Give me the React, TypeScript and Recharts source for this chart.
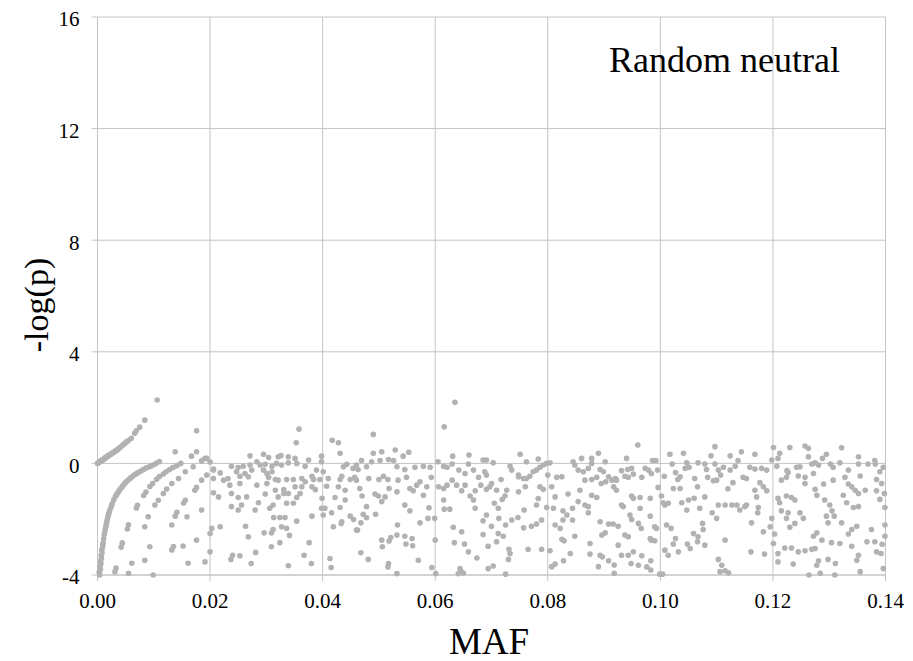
import React from 'react';
import { ScatterChart, Scatter, XAxis, YAxis, CartesianGrid } from 'recharts';

type P = [number, number];

const xTicks = [0, 0.02, 0.04, 0.06, 0.08, 0.1, 0.12, 0.14];
const yTicks = [-4, 0, 4, 8, 12, 16];
const titleText = 'Random neutral';
const xLabel = 'MAF';
const yLabel = '-log(p)';

// MAF, -log(p) pairs
const curvePositive: P[] = [
  [0, 0], [0.0001, 0.015], [0.0002, 0.03], [0.0003, 0.045], [0.0004, 0.06], [0.0005, 0.075],
  [0.0006, 0.09], [0.0007, 0.1], [0.0008, 0.11], [0.0009, 0.125], [0.001, 0.14], [0.0011, 0.155],
  [0.0012, 0.17], [0.0013, 0.185], [0.0014, 0.2], [0.0015, 0.215], [0.0016, 0.23], [0.0017, 0.245],
  [0.0018, 0.26], [0.0019, 0.27], [0.002, 0.28], [0.0021, 0.3], [0.0023, 0.32], [0.0024, 0.34],
  [0.0026, 0.36], [0.0027, 0.38], [0.0029, 0.4], [0.0031, 0.43], [0.0032, 0.44], [0.0034, 0.47],
  [0.0035, 0.49], [0.0037, 0.52], [0.0038, 0.54], [0.0041, 0.59], [0.0044, 0.64], [0.0047, 0.69],
  [0.005, 0.74], [0.0052, 0.78], [0.0055, 0.82], [0.006, 0.9], [0.0066, 1.08], [0.0069, 1.17],
  [0.0075, 1.3], [0.0084, 1.55], [0.0106, 2.27],
];

const curveMain: P[] = [
  [0.0003, -3.9], [0.0004, -4.0], [0.00045, -3.7], [0.0005, -3.8], [0.00055, -3.5], [0.0006, -3.6],
  [0.00065, -3.3], [0.0007, -3.4], [0.00075, -3.1], [0.0008, -3.2], [0.0009, -3.0], [0.00095, -2.92],
  [0.001, -2.85], [0.0011, -2.7], [0.0012, -2.55], [0.0013, -2.45], [0.0014, -2.35], [0.0015, -2.25],
  [0.0016, -2.15], [0.0017, -2.05], [0.0018, -1.95], [0.0019, -1.88], [0.002, -1.8], [0.0021, -1.72],
  [0.0023, -1.62], [0.0025, -1.52], [0.0026, -1.45], [0.0029, -1.3], [0.0032, -1.18], [0.0034, -1.12],
  [0.0036, -1.05], [0.0038, -0.99], [0.004, -0.93], [0.0043, -0.86], [0.0045, -0.8], [0.0048, -0.73],
  [0.005, -0.68], [0.0053, -0.62], [0.0056, -0.57], [0.0059, -0.52], [0.0062, -0.47], [0.0065, -0.42],
  [0.0068, -0.38], [0.0071, -0.34], [0.0075, -0.3], [0.0079, -0.25], [0.0083, -0.2], [0.0087, -0.16],
  [0.0092, -0.12], [0.0096, -0.08], [0.0101, -0.04], [0.0105, 0.01], [0.011, 0.07],
];

const curveSecond: P[] = [
  [0.0031, -3.88], [0.0033, -3.75], [0.0042, -3.0], [0.0044, -2.85], [0.0053, -2.35], [0.0055, -2.2],
  [0.0069, -1.6], [0.0071, -1.5], [0.0082, -1.15], [0.0086, -1.03], [0.0093, -0.83], [0.0098, -0.72],
  [0.0105, -0.57], [0.011, -0.47], [0.0117, -0.38], [0.0122, -0.3], [0.0128, -0.22], [0.0134, -0.15],
  [0.0141, -0.08], [0.0148, 0.0], [0.0138, 0.42],
];

const curveThird: P[] = [
  [0.0055, -3.94], [0.0061, -3.58], [0.0084, -3.47], [0.0093, -2.99], [0.0084, -2.27], [0.009, -1.91],
  [0.0102, -1.49], [0.0108, -1.32], [0.0117, -1.08], [0.0123, -0.92], [0.0132, -0.72], [0.0144, -0.54],
  [0.0156, -0.3], [0.017, -0.12], [0.0185, 0.09], [0.0194, 0.18],
];

const curveFourth: P[] = [
  [0.0099, -4.0], [0.0132, -3.1], [0.0135, -2.98], [0.0152, -2.96], [0.0132, -2.21], [0.0138, -1.89],
  [0.0141, -1.75], [0.0156, -1.32], [0.0153, -1.42], [0.0173, -0.96], [0.0176, -0.86], [0.0185, -0.6],
  [0.0194, -0.42], [0.0206, -0.24],
];

const band000to023: P[] = [
  [0.0161, -3.58], [0.0191, -3.53], [0.0176, -2.75], [0.02, -3.17], [0.02, -2.51], [0.0203, -2.33],
  [0.0218, -2.27], [0.0185, -1.67], [0.0159, -1.91], [0.0176, 1.17], [0.0176, 0.42], [0.0167, 0.26],
  [0.0191, 0.18], [0.02, 0.05], [0.0206, -0.2], [0.0218, -0.34], [0.0224, -0.6], [0.0206, -0.54],
  [0.0215, -1.2], [0.0206, -1.05],
];

const band023to046: P[] = [
  [0.0358, 1.23], [0.0353, 0.74], [0.0417, 0.83], [0.0428, 0.74], [0.0431, 0.36],
  [0.0271, 0.27], [0.0295, 0.33], [0.0304, 0.21], [0.0321, 0.24], [0.0326, 0.28], [0.0339, 0.24],
  [0.0351, 0.18], [0.0375, 0.12], [0.0398, 0.26], [0.0398, 0.06], [0.0238, -0.1], [0.025, -0.15],
  [0.0259, -0.1], [0.0271, -0.06], [0.0283, 0.06], [0.0289, -0.06], [0.0298, -0.03], [0.031, -0.1],
  [0.0318, 0.0], [0.0327, -0.06], [0.0339, 0.02], [0.0354, 0.0], [0.0369, -0.1], [0.0389, -0.24],
  [0.0401, -0.3], [0.0437, -0.12], [0.0443, -0.03], [0.0454, -0.18],
  [0.0232, -0.54], [0.0247, -0.3], [0.0253, -0.46], [0.0262, -0.36], [0.0274, -0.24], [0.0295, -0.24],
  [0.0301, -0.36], [0.0304, -0.5], [0.031, -0.3], [0.0316, -0.58], [0.0321, -0.6], [0.0336, -0.58],
  [0.0348, -0.58], [0.0363, -0.54], [0.0369, -0.66], [0.0381, -0.46], [0.0384, -0.58], [0.0395, -0.58],
  [0.041, -0.54], [0.0431, -0.58], [0.0434, -0.46], [0.0449, -0.58], [0.0457, -0.5], [0.0235, -0.78],
  [0.0253, -0.72], [0.0268, -0.48], [0.0283, -0.78], [0.0301, -0.72], [0.0316, -0.96], [0.0331, -0.94],
  [0.0351, -0.84], [0.0363, -0.84], [0.0381, -0.84], [0.0387, -0.94], [0.0407, -0.82], [0.0428, -0.84],
  [0.044, -0.96],
  [0.0238, -1.08], [0.025, -1.22], [0.0265, -1.2], [0.028, -1.67], [0.0238, -1.55], [0.025, -1.67],
  [0.0256, -1.49], [0.0286, -1.41], [0.0298, -1.1], [0.0306, -1.61], [0.0312, -1.49], [0.0321, -1.2],
  [0.0331, -1.08], [0.0336, -1.43], [0.0339, -1.08], [0.0348, -1.43], [0.0354, -1.22], [0.036, -1.08],
  [0.0381, -1.89], [0.0401, -1.85], [0.0404, -1.61], [0.0416, -1.77], [0.0422, -1.22], [0.0431, -1.58],
  [0.044, -1.31], [0.0449, -1.89], [0.0455, -2.01], [0.0399, -1.25], [0.0398, -1.61],
  [0.0313, -1.94], [0.0324, -1.94], [0.0333, -1.94], [0.0354, -2.07], [0.0263, -2.25], [0.0268, -2.63],
  [0.0296, -2.49], [0.0309, -2.49], [0.0312, -2.37], [0.0327, -2.27], [0.0336, -2.33], [0.0341, -2.58],
  [0.0324, -2.84], [0.0309, -2.99], [0.0376, -2.84], [0.0367, -3.29], [0.038, -3.59], [0.0339, -3.67],
  [0.0281, -3.19], [0.0273, -3.59], [0.0253, -3.31], [0.024, -3.29], [0.0237, -3.44], [0.0413, -3.41],
  [0.0415, -3.73], [0.0419, -2.27], [0.0433, -2.15], [0.0434, -2.09], [0.046, -2.39],
];

const band046to069: P[] = [
  [0.049, 1.04], [0.0635, 2.19], [0.0616, 1.31], [0.0505, 0.42], [0.049, 0.36], [0.0529, 0.48],
  [0.0553, 0.4], [0.0543, 0.26], [0.0631, 0.26], [0.066, 0.3], [0.0685, 0.12],
  [0.0469, 0.1], [0.0478, -0.12], [0.0463, -0.22], [0.046, -0.06], [0.0487, 0.06], [0.0502, 0.1],
  [0.0517, 0.14], [0.0526, 0.1], [0.0532, -0.12], [0.0546, -0.22], [0.0564, -0.14], [0.0579, -0.1],
  [0.0591, -0.14], [0.0605, 0.06], [0.0615, -0.1], [0.0621, -0.14], [0.063, -0.02], [0.0642, -0.24],
  [0.0653, -0.36], [0.0659, -0.02], [0.0668, -0.24], [0.0677, -0.5], [0.0688, -0.3],
  [0.046, -0.6], [0.0466, -0.9], [0.047, -1.17], [0.0482, -0.54], [0.05, -0.58], [0.0508, -0.46],
  [0.0516, -0.58], [0.0518, -0.9], [0.0511, -1.2], [0.0499, -1.17], [0.0493, -1.1], [0.0534, -0.6],
  [0.0532, -1.02], [0.0549, -0.5], [0.0555, -0.9], [0.0561, -0.98], [0.0567, -0.78], [0.0573, -0.66],
  [0.0579, -1.14], [0.0585, -0.84], [0.0593, -0.5], [0.0606, -0.84], [0.0615, -0.9], [0.0621, -0.78],
  [0.063, -0.6], [0.0638, -0.78], [0.0647, -0.98], [0.0653, -0.78], [0.0662, -1.17], [0.0671, -0.98],
  [0.0681, -0.78], [0.0691, -0.93],
  [0.0478, -1.55], [0.0472, -1.82], [0.0478, -1.95], [0.0468, -2.13], [0.0462, -2.39], [0.0494, -1.82],
  [0.0505, -1.37], [0.0546, -1.49], [0.0555, -1.7], [0.0589, -1.59], [0.0587, -1.97], [0.0599, -1.97],
  [0.0573, -2.13], [0.0533, -2.21], [0.0532, -2.57], [0.0521, -2.66], [0.0518, -2.78], [0.0505, -2.75],
  [0.0546, -2.61], [0.0559, -2.69], [0.0548, -2.89], [0.056, -2.95], [0.0506, -2.99], [0.0615, -1.31],
  [0.0616, -1.64], [0.0626, -1.64], [0.0632, -2.29], [0.0647, -2.45], [0.0634, -2.84], [0.0652, -2.89],
  [0.0668, -1.31], [0.0671, -1.61], [0.0685, -2.06], [0.0685, -2.55], [0.06, -2.75],
  [0.0468, -3.2], [0.0481, -3.44], [0.0517, -3.59], [0.0516, -3.71], [0.0532, -3.95], [0.057, -3.47],
  [0.0594, -3.73], [0.0601, -3.95], [0.0644, -3.77], [0.0646, -3.88], [0.0641, -3.95], [0.065, -3.93],
  [0.0659, -3.17], [0.0674, -3.39],
];

const band069to092: P[] = [
  [0.0751, 0.33], [0.0783, 0.16], [0.0845, 0.06], [0.086, 0.18], [0.0878, 0.18], [0.089, 0.36],
  [0.0902, 0.06], [0.0691, 0.12], [0.0703, 0.02],
  [0.0733, -0.1], [0.0736, -0.24], [0.0748, -0.42], [0.0757, -0.54], [0.0762, -0.54], [0.0768, -0.46],
  [0.0774, -0.3], [0.078, -0.24], [0.0786, -0.14], [0.0792, -0.06], [0.0798, 0.0], [0.0762, 0.06],
  [0.0804, 0.02],
  [0.0848, -0.06], [0.0854, -0.24], [0.0863, -0.3], [0.0872, -0.18], [0.0878, 0.0], [0.0893, -0.22],
  [0.0899, -0.3], [0.0908, -0.48], [0.0914, -0.6], [0.092, -0.54], [0.0866, -0.6], [0.0878, -0.58],
  [0.0887, -0.5], [0.0895, -0.72], [0.0903, -0.66], [0.0917, -0.84], [0.0691, -0.42], [0.07, -0.72],
  [0.0697, -0.84], [0.0717, -0.58], [0.0709, -0.96], [0.0727, -0.96], [0.0724, -1.17], [0.0719, -1.29],
  [0.0748, -1.02], [0.0748, -0.48], [0.076, -0.84], [0.0783, -1.26], [0.0786, -0.84], [0.0792, -0.93],
  [0.08, -0.42], [0.0816, -0.5], [0.0825, -0.48], [0.0807, -0.84], [0.0813, -1.2], [0.0836, -1.1],
  [0.0857, -0.96], [0.0854, -1.37], [0.0878, -1.14], [0.0887, -1.22], [0.0866, -1.49], [0.0872, -1.55],
  [0.0705, -1.43], [0.0712, -1.61], [0.0691, -1.85], [0.07, -2.25], [0.0713, -1.97], [0.0712, -2.51],
  [0.0721, -2.61], [0.0725, -2.21], [0.0736, -2.03], [0.0747, -1.94], [0.0758, -1.67], [0.078, -1.49],
  [0.0757, -2.31], [0.0771, -2.25], [0.078, -2.17], [0.0789, -2.03], [0.0798, -1.58], [0.081, -1.61],
  [0.0827, -1.7], [0.0834, -1.85], [0.0827, -2.03], [0.0813, -2.21], [0.0822, -2.33], [0.0844, -1.61],
  [0.0844, -2.03], [0.0872, -1.77], [0.0893, -2.09], [0.0908, -2.17], [0.0916, -2.17], [0.0902, -2.49],
  [0.0896, -2.57], [0.0825, -2.72], [0.0829, -2.77], [0.0848, -2.61], [0.0694, -2.97], [0.0709, -2.81],
  [0.0731, -3.08],
  [0.0733, -3.23], [0.073, -3.44], [0.0694, -3.77], [0.0703, -3.68], [0.0725, -3.97], [0.0765, -3.08],
  [0.0789, -3.08], [0.0804, -3.13], [0.0807, -3.7], [0.0813, -3.61], [0.0828, -3.49], [0.084, -3.23],
  [0.0875, -2.87], [0.0875, -3.25], [0.0893, -3.29], [0.0897, -3.35], [0.0908, -3.49], [0.089, -3.7],
  [0.0918, -3.64], [0.0918, -3.94],
];

const band092to115: P[] = [
  [0.096, 0.66], [0.094, 0.18], [0.0986, 0.1], [0.0992, 0.1], [0.1017, 0.33], [0.1041, 0.36],
  [0.1097, 0.6], [0.109, 0.27], [0.1124, 0.27], [0.1144, 0.42], [0.1067, 0.02],
  [0.0931, -0.26], [0.0942, -0.22], [0.0949, -0.18], [0.0952, -0.38], [0.0943, -0.5], [0.0937, -0.46],
  [0.0967, -0.5], [0.0973, -0.18], [0.0979, -0.24], [0.0984, -0.36], [0.0995, -0.24], [0.1007, -0.46],
  [0.1021, -0.02], [0.1027, -0.33], [0.1031, -0.58], [0.1035, -0.48], [0.1047, 0.02], [0.1044, -0.18],
  [0.1051, -0.14], [0.1061, -0.54], [0.1066, -0.84], [0.1079, -0.02], [0.1082, -0.22], [0.1084, -0.5],
  [0.1097, -0.02], [0.1103, -0.24], [0.1107, -0.42], [0.11, -0.6], [0.1094, -0.62], [0.1112, -0.14],
  [0.1124, -0.24], [0.1133, -0.1], [0.1138, 0.1], [0.1147, -0.5], [0.1129, -0.69], [0.112, -0.91],
  [0.0922, -0.6], [0.0922, -0.96], [0.0949, -1.17], [0.0952, -1.25], [0.0964, -1.22], [0.0982, -1.25],
  [0.0996, -0.86], [0.1002, -1.17], [0.1005, -1.41], [0.1008, -1.49], [0.1014, -1.43], [0.1023, -0.9],
  [0.1035, -0.9], [0.1038, -1.41], [0.1047, -1.67], [0.105, -1.31], [0.106, -1.25], [0.107, -1.61],
  [0.1079, -1.2], [0.1092, -1.77], [0.11, -1.97], [0.1103, -1.49], [0.1115, -1.49], [0.1127, -1.49],
  [0.1136, -1.49], [0.1141, -1.67], [0.115, -1.55], [0.0931, -1.49], [0.0934, -1.55], [0.0946, -1.85],
  [0.0949, -2.01], [0.0964, -1.61], [0.0982, -1.89], [0.0961, -2.15], [0.0966, -2.33], [0.0937, -2.57],
  [0.0925, -2.25], [0.0943, -2.63],
  [0.099, -2.27], [0.0993, -2.33], [0.0982, -2.69], [0.0984, -2.75], [0.099, -2.77], [0.1011, -2.21],
  [0.1019, -2.33], [0.1027, -2.69], [0.1023, -2.89], [0.1008, -3.11], [0.1014, -3.29], [0.1032, -3.17],
  [0.1048, -2.89], [0.1053, -3.05], [0.1059, -2.51], [0.1067, -2.63], [0.1066, -2.81], [0.1075, -2.15],
  [0.1076, -2.37], [0.1079, -2.93], [0.1115, -2.75], [0.0925, -2.93], [0.0931, -3.29], [0.0943, -3.29],
  [0.0952, -3.17], [0.0967, -3.31], [0.0948, -3.59], [0.0961, -3.65], [0.0976, -3.71], [0.0983, -3.49],
  [0.0983, -3.82], [0.0999, -3.97], [0.1004, -3.97], [0.1103, -3.44], [0.1109, -3.65], [0.1106, -3.88],
  [0.1115, -3.85], [0.1121, -3.92],
];

const band115to140: P[] = [
  [0.1201, 0.57], [0.123, 0.57], [0.1257, 0.62], [0.1263, 0.54], [0.1322, 0.56], [0.1168, 0.33],
  [0.1212, 0.36], [0.1295, 0.33], [0.1288, 0.18], [0.1263, 0.24], [0.1209, 0.18], [0.1198, 0.12],
  [0.1352, 0.24], [0.1381, 0.1], [0.1382, -0.02],
  [0.1159, -0.14], [0.1168, -0.2], [0.118, -0.18], [0.1189, -0.24], [0.1207, -0.1], [0.1225, -0.26],
  [0.1242, -0.14], [0.1248, -0.12], [0.1269, -0.02], [0.1275, 0.02], [0.1281, -0.06], [0.1302, -0.02],
  [0.1307, -0.14], [0.1319, 0.02], [0.1334, -0.24], [0.1352, -0.02], [0.1369, -0.02], [0.139, -0.3],
  [0.1396, -0.14],
  [0.1153, -0.54], [0.1177, -0.69], [0.1183, -0.84], [0.1168, -0.96], [0.1171, -1.2], [0.1189, -0.98],
  [0.1215, -0.6], [0.1227, -0.33], [0.1224, -0.5], [0.1245, -0.45], [0.1257, -0.5], [0.1272, -0.36],
  [0.1257, -0.72], [0.1275, -0.93], [0.1278, -1.14], [0.129, -0.74], [0.1307, -0.6], [0.1328, -0.5],
  [0.1334, -0.74], [0.134, -0.84], [0.1346, -0.96], [0.1352, -1.08], [0.1355, -0.45], [0.1364, -0.96],
  [0.1384, -0.58], [0.1393, -0.72], [0.1398, -1.08], [0.139, -1.29], [0.1325, -1.14], [0.1331, -1.41],
  [0.1153, -1.49], [0.1174, -1.58], [0.1173, -1.77], [0.1209, -1.25], [0.1212, -1.41], [0.1224, -1.17],
  [0.1233, -1.22], [0.1239, -1.31], [0.1215, -1.7], [0.1227, -1.77], [0.1224, -1.97], [0.1248, -1.77],
  [0.1254, -1.97], [0.1239, -2.15], [0.123, -2.29], [0.1198, -1.97], [0.1162, -2.13], [0.1195, -2.27],
  [0.1183, -2.45], [0.1292, -1.31], [0.1301, -1.49], [0.1305, -1.7], [0.1295, -1.89], [0.1309, -1.89],
  [0.1298, -2.13], [0.1322, -2.13], [0.1343, -1.58], [0.1352, -1.55], [0.1349, -2.25], [0.134, -2.37],
  [0.1375, -2.37], [0.1334, -2.53], [0.1399, -1.58], [0.1384, -0.98],
  [0.1203, -2.53], [0.1201, -2.87], [0.1209, -3.23], [0.1209, -3.53], [0.1161, -3.17], [0.1185, -3.25],
  [0.1221, -3.03], [0.1233, -3.03], [0.1245, -3.17], [0.1257, -3.13], [0.1269, -3.08], [0.1275, -3.05],
  [0.1272, -2.61], [0.1278, -2.49], [0.1287, -2.75], [0.1281, -3.49], [0.1278, -3.65], [0.1298, -3.44],
  [0.1311, -3.59], [0.1264, -4.0], [0.1284, -3.94], [0.131, -4.0], [0.1236, -3.61], [0.1304, -2.84],
  [0.1319, -2.87], [0.134, -2.97], [0.1352, -3.29], [0.1349, -3.47], [0.1355, -3.88], [0.1367, -2.81],
  [0.1381, -2.81], [0.1384, -3.17], [0.1392, -3.23], [0.1394, -2.9], [0.1396, -3.77], [0.1399, -2.61],
  [0.1399, -2.21],
];

const allPoints = [
  ...curvePositive, ...curveMain, ...curveSecond, ...curveThird, ...curveFourth,
  ...band000to023, ...band023to046, ...band046to069, ...band069to092, ...band092to115, ...band115to140,
].map(([maf, logp]) => ({ maf, logp }));

const FONT = 'Liberation Serif';
const GRID = '#c4c4c4';
const DOT = '#b2b2b2';

const Dot = (p: any) => <circle cx={p.cx} cy={p.cy} r={2.8} fill={DOT} />;

const XTick = (p: any) => (
  <text x={p.x} y={p.y} dy="0.71em" textAnchor="middle" fill="#000"
    style={{ fontFamily: FONT, fontSize: 21 }}>
    {Number(p.payload.value).toFixed(2)}
  </text>
);

const YTick = (p: any) => (
  <text x={p.x} y={p.y} dy="0.45em" textAnchor="end" fill="#000"
    style={{ fontFamily: FONT, fontSize: 21 }}>
    {String(p.payload.value)}
  </text>
);

export default function App() {
  return (
    <div style={{ position: 'absolute', left: 0, top: 0, width: 913, height: 661, background: '#fff' }}>
      <ScatterChart width={913} height={661} margin={{ top: 17, right: 27.5, bottom: 0, left: 17.5 }}>
        <CartesianGrid stroke={GRID} strokeWidth={1} />
        <XAxis
          type="number"
          dataKey="maf"
          domain={[0, 0.14]}
          ticks={xTicks}
          interval={0}
          height={86}
          tickSize={6}
          tickMargin={12}
          axisLine={{ stroke: GRID }}
          tickLine={{ stroke: GRID }}
          tick={<XTick />}
        />
        <YAxis
          type="number"
          dataKey="logp"
          domain={[-4, 16]}
          ticks={yTicks}
          interval={0}
          width={80}
          tickSize={6}
          tickMargin={12}
          axisLine={{ stroke: GRID }}
          tickLine={{ stroke: GRID }}
          tick={<YTick />}
        />
        <Scatter data={allPoints} shape={Dot} isAnimationActive={false} />
      </ScatterChart>
      <div
        style={{
          position: 'absolute', left: 489, top: 641, transform: 'translate(-50%, -50%)',
          whiteSpace: 'nowrap', fontFamily: FONT, fontSize: 37, lineHeight: 1, color: '#000',
        }}
      >
        {xLabel}
      </div>
      <div
        style={{
          position: 'absolute', left: 37, top: 305, transform: 'translate(-50%, -50%) rotate(-90deg)',
          whiteSpace: 'nowrap', fontFamily: FONT, fontSize: 34, lineHeight: 1, color: '#000',
        }}
      >
        {yLabel}
      </div>
      <div
        style={{
          position: 'absolute', left: 609, top: 42, whiteSpace: 'nowrap', fontFamily: FONT,
          fontSize: 36, lineHeight: 1, color: '#000',
        }}
      >
        {titleText}
      </div>
    </div>
  );
}
